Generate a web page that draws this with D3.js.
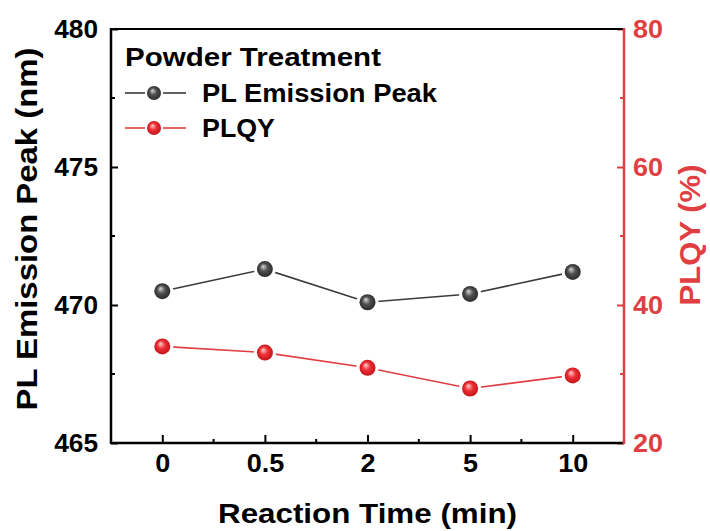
<!DOCTYPE html>
<html><head><meta charset="utf-8">
<script src="https://cdn.jsdelivr.net/npm/d3@7"></script>
<style>body{margin:0;background:#fff}svg{display:block}text{font-family:"Liberation Sans",Arial,sans-serif;font-weight:bold}</style>
</head><body>
<script>
const categories = ["0","0.5","2","5","10"];
const peakValues = [470.5, 471.3, 470.1, 470.4, 471.2];
const plqyValues = [34.0, 33.1, 30.9, 27.9, 29.8];
const leftTicks = [465, 470, 475, 480];
const leftMinor = [467.5, 472.5, 477.5];
const rightTicks = [20, 40, 60, 80];
const rightMinor = [30, 50, 70];
const seriesNames = ["PL Emission Peak", "PLQY"];
const legendTitle = "Powder Treatment";
const xTitle = "Reaction Time (min)";
const yLeftTitle = "PL Emission Peak (nm)";
const yRightTitle = "PLQY (%)";

const W = 710, H = 531;
const m = {l:111, r:624, t:29, b:443};
const red = "#df3f42";
const svg = d3.select("body").append("svg").attr("width", W).attr("height", H);
const defs = svg.append("defs");
function grad(id, c0, c1, c2){
  const g = defs.append("radialGradient").attr("id", id).attr("cx","50%").attr("cy","50%").attr("r","55%").attr("fx","38%").attr("fy","32%");
  g.append("stop").attr("offset","0%").attr("stop-color",c0);
  g.append("stop").attr("offset","45%").attr("stop-color",c1);
  g.append("stop").attr("offset","100%").attr("stop-color",c2);
}
grad("gBlack", "#d8d8d8", "#505050", "#262626");
grad("gRed", "#ffd0d0", "#ee3036", "#c01018");

function stretch(sel, k){
  sel.each(function(){
    const L = this.getComputedTextLength();
    d3.select(this).attr("textLength", L*k).attr("lengthAdjust","spacingAndGlyphs");
  });
}
function fit(sel, w){ sel.attr("textLength", w).attr("lengthAdjust","spacingAndGlyphs"); }

const x = d3.scalePoint().domain(categories).range([m.l, m.r]).padding(0.5);
const yL = d3.scaleLinear().domain([465, 480]).range([m.b, m.t]);
const yR = d3.scaleLinear().domain([20, 80]).range([m.b, m.t]);

const FS = 25;
// x axis
const gx = svg.append("g").attr("transform", `translate(0,${m.b})`).call(d3.axisBottom(x).tickSizeInner(-8).tickSizeOuter(0));
gx.select(".domain").remove();
gx.selectAll(".tick line").attr("stroke","#000").attr("stroke-width",2);
gx.selectAll(".tick text").attr("font-size",FS).attr("fill","#000").attr("y",29).attr("dy",null).call(stretch, 1.08);
const step = x.step();
const xMinor = categories.slice(0,-1).map(c => x(c) + step/2);
svg.append("g").selectAll("line").data(xMinor).join("line")
  .attr("x1", d=>d).attr("x2", d=>d).attr("y1", m.b).attr("y2", m.b-4).attr("stroke","#000").attr("stroke-width",2);

// left axis
const gl = svg.append("g").attr("transform", `translate(${m.l},0)`).call(d3.axisLeft(yL).tickValues(leftTicks).tickSizeInner(-7).tickSizeOuter(0).tickPadding(13));
gl.select(".domain").remove();
gl.selectAll(".tick line").attr("stroke","#000").attr("stroke-width",2);
gl.selectAll(".tick text").attr("font-size",FS).attr("fill","#000").call(stretch, 1.05);
svg.append("g").selectAll("line").data(leftMinor).join("line")
  .attr("x1", m.l).attr("x2", m.l+4).attr("y1", d=>yL(d)).attr("y2", d=>yL(d)).attr("stroke","#000").attr("stroke-width",2);

// right axis
const gr = svg.append("g").attr("transform", `translate(${m.r},0)`).call(d3.axisRight(yR).tickValues(rightTicks).tickSizeInner(-7).tickSizeOuter(0).tickPadding(9));
gr.select(".domain").remove();
gr.selectAll(".tick line").attr("stroke",red).attr("stroke-width",2);
gr.selectAll(".tick text").attr("font-size",FS).attr("fill",red).call(stretch, 1.08);
svg.append("g").selectAll("line").data(rightMinor).join("line")
  .attr("x1", m.r).attr("x2", m.r-4).attr("y1", d=>yR(d)).attr("y2", d=>yR(d)).attr("stroke",red).attr("stroke-width",2);

// frame
svg.append("line").attr("x1",m.l).attr("x2",m.r).attr("y1",m.t).attr("y2",m.t).attr("stroke","#000").attr("stroke-width",2);
svg.append("line").attr("x1",m.l).attr("x2",m.r).attr("y1",m.b).attr("y2",m.b).attr("stroke","#000").attr("stroke-width",2.5);
svg.append("line").attr("x1",m.l).attr("x2",m.l).attr("y1",m.t-1).attr("y2",m.b+1).attr("stroke","#000").attr("stroke-width",2.5);
svg.append("line").attr("x1",m.r).attr("x2",m.r).attr("y1",m.t-1).attr("y2",m.b+1).attr("stroke",red).attr("stroke-width",2.5);

// series
function series(vals, ys, color, gid){
  const pts = vals.map((v,i)=>[x(categories[i]), ys(v)]);
  const g = svg.append("g");
  g.append("path").attr("d", d3.line()(pts)).attr("fill","none").attr("stroke",color).attr("stroke-width",1.6);
  g.selectAll("circle.halo").data(pts).join("circle").attr("class","halo").attr("cx",d=>d[0]).attr("cy",d=>d[1]).attr("r",11).attr("fill","#fff");
  g.selectAll("circle.pt").data(pts).join("circle").attr("class","pt").attr("cx",d=>d[0]).attr("cy",d=>d[1]).attr("r",8).attr("fill",`url(#${gid})`);
}
series(peakValues, yL, "#3a3a3a", "gBlack");
series(plqyValues, yR, red, "gRed");

// legend
svg.append("text").attr("x",125).attr("y",66).attr("font-size",FS).attr("fill","#000").text(legendTitle).call(fit, 256);
const leg = [{n:seriesNames[0], c:"#3a3a3a", g:"gBlack", y:93, w:235},{n:seriesNames[1], c:red, g:"gRed", y:128, w:73}];
leg.forEach(d=>{
  svg.append("line").attr("x1",125).attr("x2",145).attr("y1",d.y).attr("y2",d.y).attr("stroke",d.c).attr("stroke-width",1.6);
  svg.append("line").attr("x1",163).attr("x2",186).attr("y1",d.y).attr("y2",d.y).attr("stroke",d.c).attr("stroke-width",1.6);
  svg.append("circle").attr("cx",154).attr("cy",d.y).attr("r",7).attr("fill",`url(#${d.g})`);
  svg.append("text").attr("x",202).attr("y",d.y+9).attr("font-size",FS).attr("fill","#000").text(d.n).call(fit, d.w);
});

// titles
svg.append("text").attr("x",(m.l+m.r)/2).attr("y",523).attr("text-anchor","middle").attr("font-size",28).attr("fill","#000").text(xTitle).call(fit, 299);
svg.append("text").attr("transform",`translate(37,229) rotate(-90)`).attr("text-anchor","middle").attr("font-size",29).attr("fill","#000").text(yLeftTitle).call(fit, 363);
svg.append("text").attr("transform",`translate(700,235) rotate(-90)`).attr("text-anchor","middle").attr("font-size",29).attr("fill",red).text(yRightTitle).call(fit, 141);
</script>
</body></html>
